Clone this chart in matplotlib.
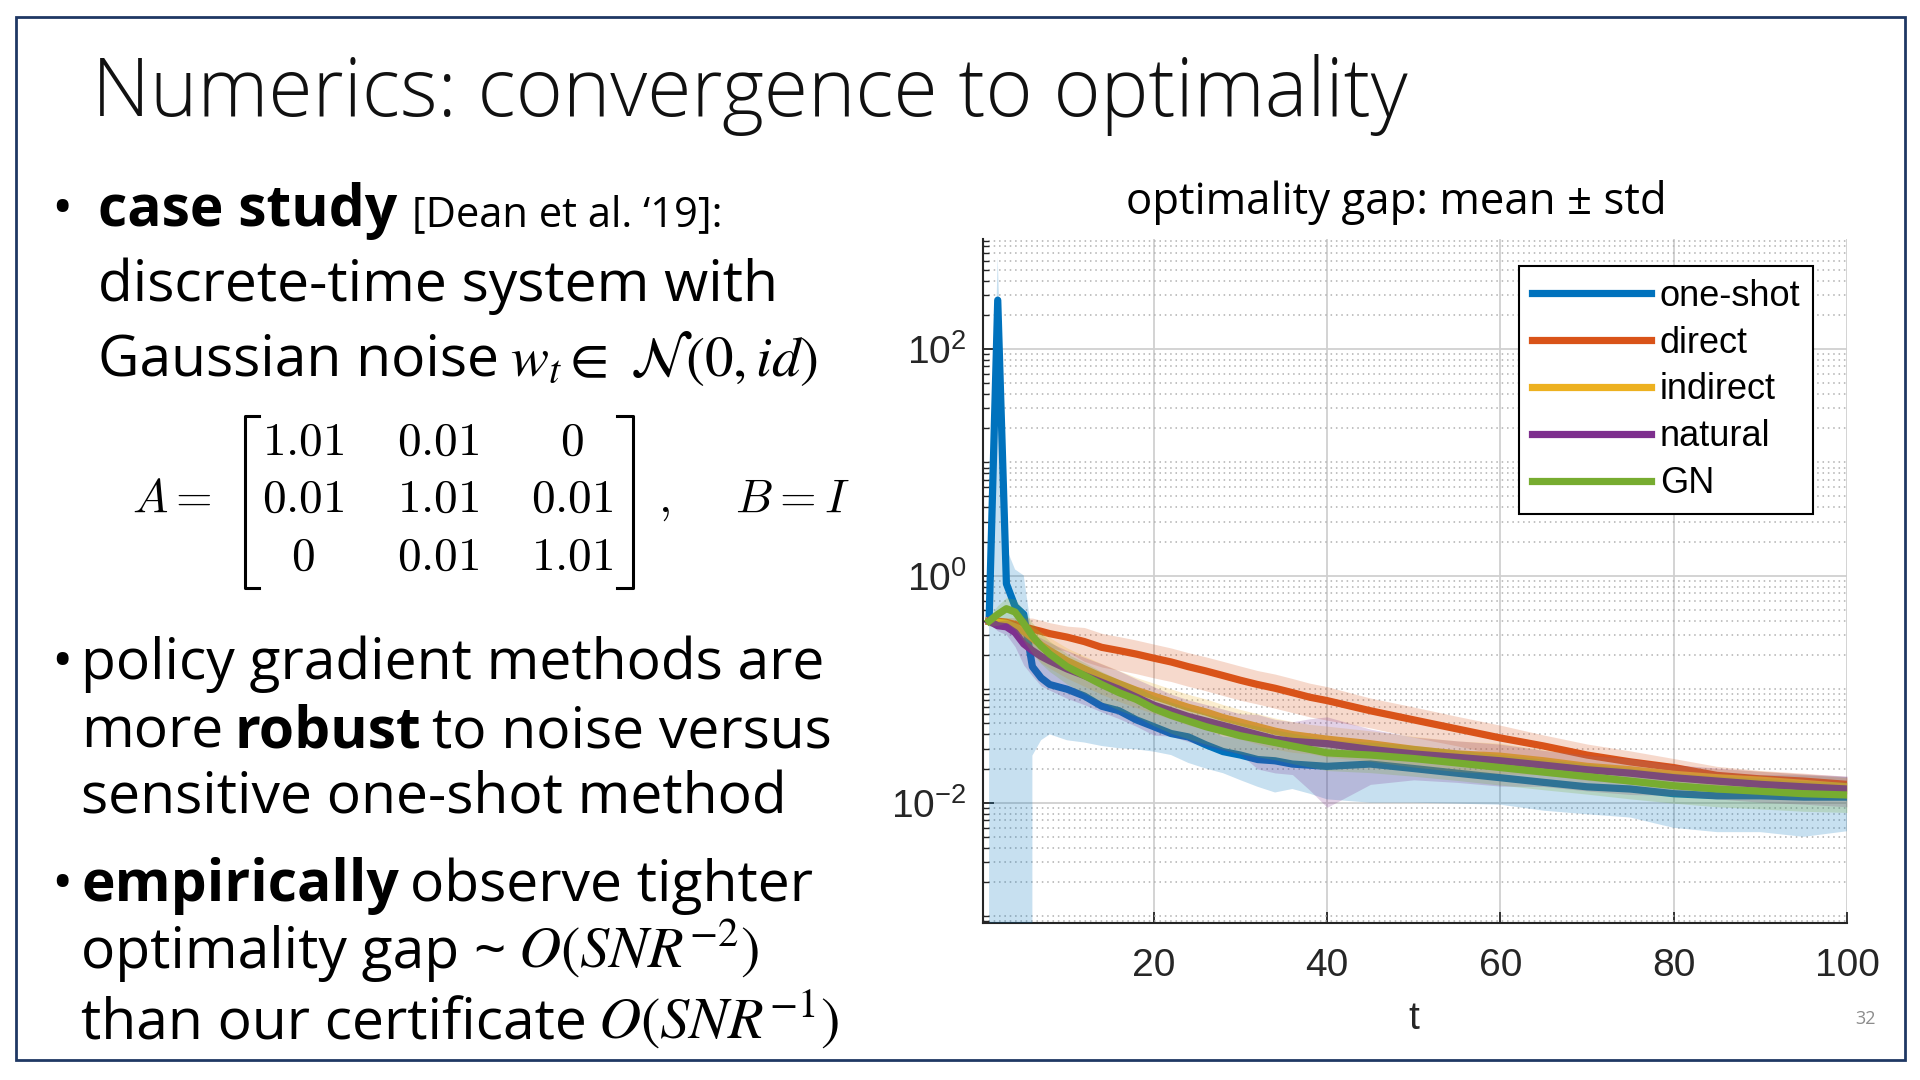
import numpy as np
import matplotlib
matplotlib.use("Agg")
import matplotlib.pyplot as plt
from matplotlib.lines import Line2D
from matplotlib.patches import Rectangle
from matplotlib.ticker import LogLocator, NullFormatter

# iteration knots (t)
t = [1, 2, 3, 4, 5, 6, 7, 8, 10, 12, 14, 16, 18, 20, 22, 24, 26, 28, 30, 32,
     34, 36, 38, 40, 45, 50, 55, 60, 65, 70, 75, 80, 85, 90, 95, 100]

# mean optimality gap per method
one_shot = [0.398, 269, 0.851, 0.537, 0.457, 0.158, 0.126, 0.110, 0.100, 0.0871,
            0.0708, 0.0646, 0.0537, 0.0468, 0.0407, 0.0380, 0.0324, 0.0282, 0.0263, 0.0240,
            0.0234, 0.0219, 0.0214, 0.0209, 0.0219, 0.0200, 0.0182, 0.0166, 0.0151, 0.0138,
            0.0132, 0.0120, 0.0115, 0.0115, 0.0112, 0.0112]
direct = [0.398, 0.398, 0.389, 0.372, 0.355, 0.339, 0.324, 0.309, 0.288, 0.263,
          0.234, 0.219, 0.204, 0.188, 0.174, 0.158, 0.145, 0.132, 0.120, 0.110,
          0.102, 0.0933, 0.0851, 0.0794, 0.0646, 0.0537, 0.0447, 0.0372, 0.0316, 0.0263,
          0.0229, 0.0204, 0.0174, 0.0162, 0.0155, 0.0145]
indirect = [0.398, 0.389, 0.380, 0.355, 0.324, 0.282, 0.245, 0.219, 0.178, 0.151,
            0.129, 0.112, 0.0977, 0.0871, 0.0776, 0.0692, 0.0631, 0.0562, 0.0513, 0.0468,
            0.0427, 0.0398, 0.0380, 0.0363, 0.0331, 0.0295, 0.0269, 0.0257, 0.0234, 0.0209,
            0.0195, 0.0178, 0.0166, 0.0158, 0.0148, 0.0138]
natural = [0.398, 0.363, 0.355, 0.316, 0.251, 0.219, 0.195, 0.178, 0.151, 0.132,
           0.115, 0.100, 0.0851, 0.0724, 0.0646, 0.0575, 0.0525, 0.0479, 0.0437, 0.0398,
           0.0363, 0.0347, 0.0339, 0.0331, 0.0295, 0.0269, 0.0251, 0.0234, 0.0214, 0.0195,
           0.0182, 0.0166, 0.0155, 0.0145, 0.0138, 0.0132]
gn = [0.398, 0.457, 0.513, 0.479, 0.380, 0.295, 0.240, 0.204, 0.158, 0.132,
      0.110, 0.0933, 0.0813, 0.0676, 0.0589, 0.0525, 0.0468, 0.0427, 0.0389, 0.0363,
      0.0339, 0.0316, 0.0295, 0.0275, 0.0263, 0.0245, 0.0224, 0.0204, 0.0186, 0.0170,
      0.0155, 0.0141, 0.0132, 0.0126, 0.0120, 0.0117]

# standard deviations (shaded band = mean +/- std)
one_shot_std = [0.42, 380, 0.90, 0.60, 0.55, 0.132, 0.0905, 0.070, 0.0645, 0.0532,
                0.0392, 0.0344, 0.0242, 0.0186, 0.0144, 0.0156, 0.0124, 0.0100, 0.0105, 0.0102,
                0.0111, 0.0087, 0.0094, 0.0102, 0.0119, 0.0100, 0.0084, 0.0070, 0.0066, 0.0059,
                0.0058, 0.0060, 0.0060, 0.0060, 0.0062, 0.0056]
direct_std = [0.020, 0.032, 0.039, 0.056, 0.071, 0.085, 0.081, 0.077, 0.072, 0.087,
              0.077, 0.072, 0.067, 0.062, 0.057, 0.052, 0.048, 0.044, 0.040, 0.036,
              0.034, 0.031, 0.028, 0.026, 0.019, 0.016, 0.013, 0.011, 0.0079, 0.0066,
              0.0057, 0.0041, 0.0035, 0.0030, 0.0027, 0.0025]
indirect_std = [0.020, 0.039, 0.046, 0.053, 0.065, 0.071, 0.074, 0.066, 0.053, 0.045,
                0.039, 0.034, 0.029, 0.026, 0.023, 0.021, 0.019, 0.017, 0.015, 0.014,
                0.013, 0.012, 0.011, 0.011, 0.0099, 0.0089, 0.0081, 0.0077, 0.0058, 0.0052,
                0.0049, 0.0036, 0.0033, 0.0032, 0.0030, 0.0028]
natural_std = [0.020, 0.036, 0.053, 0.079, 0.088, 0.088, 0.088, 0.080, 0.068, 0.059,
               0.052, 0.045, 0.038, 0.033, 0.026, 0.023, 0.021, 0.019, 0.017, 0.020,
               0.018, 0.017, 0.021, 0.024, 0.015, 0.011, 0.010, 0.0094, 0.0075, 0.0068,
               0.0064, 0.0050, 0.0047, 0.0044, 0.0041, 0.0040]
gn_std = [0.040, 0.091, 0.128, 0.144, 0.114, 0.089, 0.072, 0.061, 0.047, 0.040,
          0.033, 0.028, 0.024, 0.020, 0.018, 0.016, 0.014, 0.013, 0.012, 0.011,
          0.010, 0.0095, 0.0089, 0.0083, 0.0079, 0.0074, 0.0067, 0.0061, 0.0056, 0.0051,
          0.0047, 0.0042, 0.0040, 0.0038, 0.0036, 0.0035]

labels = ["one-shot", "direct", "indirect", "natural", "GN"]
colors = ["#0072BD", "#D95319", "#EDB120", "#7E2F8E", "#77AC30"]

plt.rcParams["mathtext.fontset"] = "custom"
plt.rcParams["mathtext.rm"] = "Liberation Sans"
plt.rcParams["mathtext.it"] = "Liberation Sans:italic"
plt.rcParams["mathtext.bf"] = "Liberation Sans:bold"

W, H = 1920, 1080


def fx(px):
    return px / W


def fy(py):
    return 1 - py / H


fig = plt.figure(figsize=(19.2, 10.8), dpi=100)
fig.patch.set_facecolor("white")
renderer = fig.canvas.get_renderer()

# slide frame + title
fig.add_artist(Rectangle((fx(16), fy(1060)), fx(1905) - fx(16), fy(17) - fy(1060),
                         transform=fig.transFigure, fill=False, edgecolor="#1f3864", lw=2))
fig.text(fx(92), fy(116), "Numerics: convergence to optimality", fontsize=58,
         family="Open Sans", weight="light", color="#111111", va="baseline")

TXT = dict(family="Open Sans", fontsize=41, color="black", va="baseline")
BOLD = dict(TXT, weight="bold")
MATH = dict(fontsize=42, color="black", va="baseline", math_fontfamily="stix")


def rich_line(x, y, pieces, gap=11):
    # put text pieces one after another on a common baseline
    for s, kw in pieces:
        txt = fig.text(fx(x), fy(y), s, ha="left", **kw)
        x += txt.get_window_extent(renderer).width + gap


# bullet 1
fig.text(fx(51), fy(226), "\u2022", **TXT)
rich_line(98, 226, [("case study", BOLD),
                    ("[Dean et al. \u201819]:", dict(TXT, fontsize=30))], gap=15)
fig.text(fx(98), fy(301), "discrete-time system with", **TXT)
rich_line(98, 376, [("Gaussian noise", TXT),
                    (r"$w_t \in\ \mathcal{N}(0, id)$", dict(MATH, fontsize=41))], gap=11)

# matrix A
CM = dict(fontsize=34, color="black", va="baseline", ha="center", math_fontfamily="cm")
entries = [["1.01", "0.01", "0"], ["0.01", "1.01", "0.01"], ["0", "0.01", "1.01"]]
col_x = [303, 438, 572]
row_y = [455, 512, 570]
for i, row in enumerate(entries):
    for j, e in enumerate(row):
        fig.text(fx(col_x[j]), fy(row_y[i]), "$" + e + "$", **CM)
fig.text(fx(172), fy(512), "$A =$", **CM)
fig.text(fx(664), fy(512), "$,$", **CM)
fig.text(fx(792), fy(512), "$B = I$", **CM)
for xs in ([259, 245, 245, 259], [617, 633, 633, 617]):
    fig.add_artist(Line2D([fx(v) for v in xs], [fy(416), fy(416), fy(588), fy(588)],
                          transform=fig.transFigure, color="black", lw=2.2))

# bullet 2
fig.text(fx(51), fy(679), "\u2022", **TXT)
fig.text(fx(81), fy(679), "policy gradient methods are", **TXT)
rich_line(81, 747, [("more", TXT), ("robust", BOLD), ("to noise versus", TXT)])
fig.text(fx(81), fy(814), "sensitive one-shot method", **TXT)

# bullet 3
fig.text(fx(51), fy(901), "\u2022", **TXT)
rich_line(81, 901, [("empirically", BOLD), ("observe tighter", TXT)])
rich_line(81, 968, [("optimality gap ~", TXT), (r"$O(SNR^{-2})$", MATH)])
rich_line(81, 1039, [("than our certificate", TXT), (r"$O(SNR^{-1})$", MATH)])

fig.text(fx(1866), fy(1019), "32", family="Open Sans", fontsize=13, color="#8c8c8c",
         ha="center", va="center")

# chart
fig.text(fx(1396), fy(214), "optimality gap: mean \u00b1 std", family="Open Sans",
         fontsize=31.5, color="black", ha="center", va="baseline")

ax = fig.add_axes([fx(983), fy(923), fx(1847) - fx(983), fy(239) - fy(923)])
ax.set_yscale("log")
means = [one_shot, direct, indirect, natural, gn]
stds = [one_shot_std, direct_std, indirect_std, natural_std, gn_std]
z = 3
for m, s, c, lab in zip(means, stds, colors, labels):
    m = np.array(m)
    s = np.array(s)
    ax.plot(t, m, color=c, lw=5.2, label=lab, zorder=z, solid_joinstyle="round")
    ax.fill_between(t, m - s, m + s, color=c, alpha=0.22, lw=0, zorder=z + 1)
    z += 2

ax.set_xlim(0.3, 100)
ax.set_ylim(8.7e-4, 9.3e2)
ax.set_xticks([20, 40, 60, 80, 100])
ax.set_yticks([1e-2, 1, 1e2])
ax.set_yticklabels([r"10$^{-2}$", r"10$^{0}$", r"10$^{2}$"])
ax.yaxis.set_minor_locator(LogLocator(base=10, subs=np.arange(1, 10), numticks=100))
ax.yaxis.set_minor_formatter(NullFormatter())
ax.set_axisbelow(True)
ax.grid(True, which="major", color="#d0d0d0", lw=1.3, ls="-")
ax.grid(True, which="minor", axis="y", color="#b0b0b0", lw=1.1, ls=(0, (1, 2.5)))

ax.tick_params(which="both", direction="in", colors="#262626", labelsize=28)
ax.tick_params(which="major", length=8, width=1.3)
ax.tick_params(which="minor", length=4, width=1.0)
ax.tick_params(axis="x", pad=18)
ax.tick_params(axis="y", pad=12)
for lbl in ax.get_xticklabels() + ax.get_yticklabels():
    lbl.set_family("Liberation Sans")
for side in ["top", "right"]:
    ax.spines[side].set_visible(False)
for side in ["left", "bottom"]:
    ax.spines[side].set_color("#262626")
    ax.spines[side].set_linewidth(1.5)

fig.text(fx(1414), fy(1019), "t", family="Liberation Sans", fontsize=28,
         color="#262626", ha="center", va="center")

leg = ax.legend(loc="upper right", bbox_to_anchor=(fx(1813), fy(266)),
                bbox_transform=fig.transFigure, prop={"family": "Liberation Sans", "size": 26},
                frameon=True, fancybox=False, edgecolor="black", framealpha=1,
                handlelength=3.3, labelspacing=0.33, borderpad=0.35, handletextpad=0.25,
                borderaxespad=0)
leg.get_frame().set_linewidth(1.5)
leg.set_zorder(20)

fig.savefig("out.png", dpi=100)
